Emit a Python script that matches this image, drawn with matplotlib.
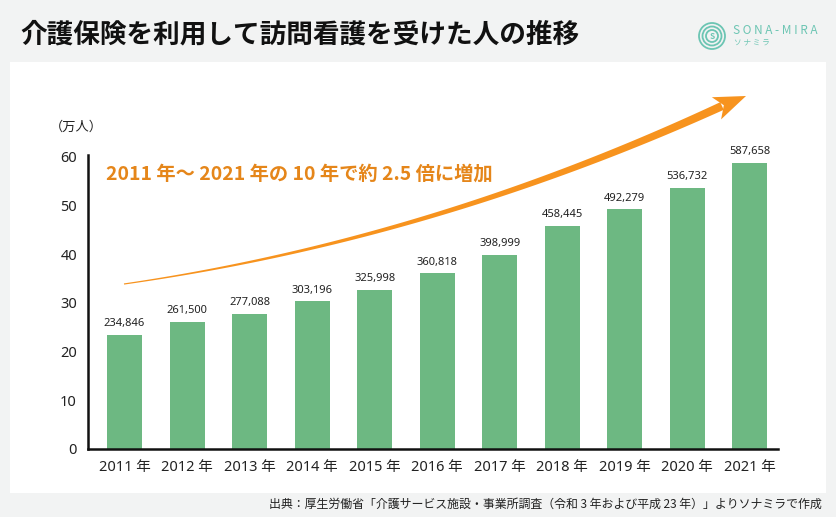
import matplotlib
matplotlib.use("Agg")
import matplotlib.pyplot as plt
import numpy as np
from matplotlib.patches import Rectangle, Polygon, Circle

plt.rcParams['font.family'] = ['Noto Sans CJK JP', 'DejaVu Sans']
LAT = ['Noto Sans', 'Noto Sans CJK JP', 'DejaVu Sans']

years = ["2011 年", "2012 年", "2013 年", "2014 年", "2015 年", "2016 年",
         "2017 年", "2018 年", "2019 年", "2020 年", "2021 年"]
users = [234846, 261500, 277088, 303196, 325998, 360818,
         398999, 458445, 492279, 536732, 587658]
yticks = [0, 10, 20, 30, 40, 50, 60]

title = "介護保険を利用して訪問看護を受けた人の推移"
note = "2011 年～ 2021 年の 10 年で約 2.5 倍に増加"
unit = "（万人）"
source = "出典：厚生労働省「介護サービス施設・事業所調査（令和 3 年および平成 23 年）」よりソナミラで作成"

W, H = 836, 517
fig = plt.figure(figsize=(W / 100, H / 100), dpi=100)
fig.patch.set_facecolor("#f2f3f3")

# background overlay in pixel coords
bg = fig.add_axes([0, 0, 1, 1], zorder=0)
bg.set_xlim(0, W)
bg.set_ylim(H, 0)
bg.set_axis_off()
bg.add_patch(Rectangle((10, 62), 816, 431, facecolor="white", edgecolor="none"))
bg.text(20, 35, title, fontsize=19.2, fontweight="bold", color="#111111",
        va="center", ha="left")
bg.text(822, 504, source, fontsize=8.6, color="#222222", va="center", ha="right")

# logo
for r, lw in [(13, 1.3), (9.5, 1.3), (6, 1.3)]:
    bg.add_patch(Circle((712, 36), r, facecolor="none", edgecolor="#6cc5b3", lw=lw))
bg.text(712, 36.5, "S", fontsize=6, color="#6cc5b3", ha="center", va="center",
        fontweight="bold")
bg.text(733, 30, "S O N A - M I R A", fontsize=8.5, color="#6cc5b3", ha="left",
        va="center")
bg.text(734, 43, "ソ ナ ミ ラ", fontsize=5.5, color="#6cc5b3", ha="left", va="center")

# main axes
left, right = 88, 778
bottom, top = 449, 155
ax = fig.add_axes([left / W, 1 - bottom / H, (right - left) / W, (bottom - top) / H],
                  zorder=1)
ax.set_facecolor("none")
x = np.arange(len(years))
vals = np.array(users) / 10000
ax.bar(x, vals, width=0.56, color="#6db882", zorder=2)
for xi, v, u in zip(x, vals, users):
    ax.text(xi, v + 1.2, f"{u:,}", ha="center", va="bottom", fontsize=8,
            color="#222222", family=LAT)
ax.set_xlim(-0.584, 10.45)
ax.set_ylim(0, 60.4)
ax.set_yticks(yticks)
ax.set_xticks(x)
ax.set_xticklabels(years)
ax.tick_params(axis="both", length=0, labelsize=10.5, colors="#222222")
ax.tick_params(axis="y", pad=8)
ax.tick_params(axis="x", pad=8)
for lab in ax.get_xticklabels() + ax.get_yticklabels():
    lab.set_family(LAT)
for s in ["top", "right"]:
    ax.spines[s].set_visible(False)
for s in ["left", "bottom"]:
    ax.spines[s].set_linewidth(1.8)
    ax.spines[s].set_color("#111111")

# overlay for arrow and annotation text
ov = fig.add_axes([0, 0, 1, 1], zorder=3)
ov.set_xlim(0, W)
ov.set_ylim(H, 0)
ov.set_axis_off()
ov.patch.set_alpha(0)

P0 = np.array([124.0, 284.0])
P1 = np.array([430.0, 240.0])
P2 = np.array([722.0, 106.0])
t = np.linspace(0, 1, 200)
pts = ((1 - t) ** 2)[:, None] * P0 + (2 * t * (1 - t))[:, None] * P1 + (t ** 2)[:, None] * P2
d = (-2 * (1 - t))[:, None] * P0 + (2 - 4 * t)[:, None] * P1 + (2 * t)[:, None] * P2
d /= np.linalg.norm(d, axis=1)[:, None]
nrm = np.stack([-d[:, 1], d[:, 0]], axis=1)
wid = 0.6 + 3.6 * t ** 1.2
upper = pts + nrm * wid[:, None]
lower = pts - nrm * wid[:, None]
poly = np.vstack([upper, lower[::-1]])
orange = "#f7931e"
ov.add_patch(Polygon(poly, closed=True, facecolor=orange, edgecolor="none"))
# head
tip = np.array([746.0, 96.0])
dirv = tip - P2
dirv /= np.linalg.norm(dirv)
nv = np.array([-dirv[1], dirv[0]])
base = tip - dirv * 32
head = np.array([tip, base + nv * 12, P2 + dirv * 2, base - nv * 12])
ov.add_patch(Polygon(head, closed=True, facecolor=orange, edgecolor="none"))

ov.text(106, 174, note, fontsize=13.9, fontweight="bold", color="#e5861a",
        ha="left", va="center")
ov.text(50, 127, unit, fontsize=9.5, color="#222222", ha="left", va="center")

fig.savefig("out.png", dpi=100, facecolor=fig.get_facecolor())
